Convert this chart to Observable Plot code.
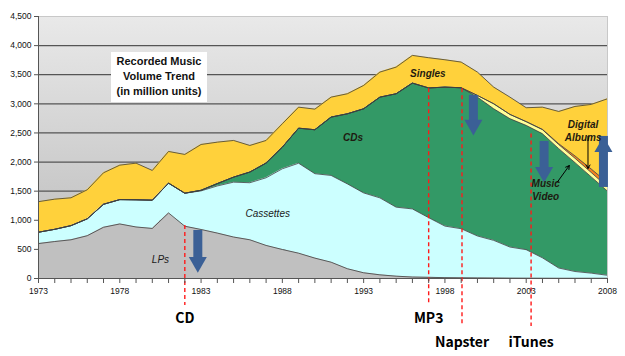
<!DOCTYPE html>
<html><head><meta charset="utf-8">
<script src="https://cdn.jsdelivr.net/npm/d3@7"></script>
<script src="https://cdn.jsdelivr.net/npm/@observablehq/plot@0.6"></script>
<style>
body{margin:0;background:#fff;}
#wrap{position:relative;width:625px;height:356px;}
#titlebox{position:absolute;left:111px;top:52px;width:96px;height:50px;background:#fff;
  font:bold 11px "Liberation Sans",Arial,sans-serif;text-align:center;line-height:15px;
  padding-top:2px;box-sizing:border-box;color:#111;}
</style></head><body>
<div id="wrap"><div id="titlebox">Recorded Music<br>Volume Trend<br>(in million units)</div></div>
<script>
// ---- data (million units) ----
const years = [1973,1974,1975,1976,1977,1978,1979,1980,1981,1982,1983,1984,1985,1986,1987,1988,1989,1990,
  1991,1992,1993,1994,1995,1996,1997,1998,1999,2000,2001,2002,2003,2004,2005,2006,2007,2008];
const lps = [600,635,665,735,880,937,885,860,1126,898,842,780,712,665,568,498,435,350,
  280,168,98,63,40,25,20,15,12,10,8,6,5,4,3,3,3,3];
const cassettes = [195,210,243,290,395,418,467,485,512,567,663,810,943,980,1162,1387,1545,1450,
  1490,1457,1372,1322,1185,1170,1025,885,843,720,647,534,490,351,177,117,89,52];
const cds = [0,0,0,0,0,0,0,0,0,0,10,40,86,183,252,371,602,755,
  1002,1204,1445,1730,1948,2161,2228,2387,2421,2385,2260,2204,2134,2131,2050,1870,1653,1445];
const musicVideo = [0,0,0,0,0,0,0,0,0,0,0,0,0,0,0,0,0,0,
  0,0,0,0,0,0,0,0,0,29,86,74,65,70,70,75,75,72];
const digitalAlbums = [0,0,0,0,0,0,0,0,0,0,0,0,0,0,0,0,0,0,
  0,0,0,0,0,0,0,0,0,0,0,0,0,5,15,40,60,75];
const singles = [525,518,478,499,541,592,629,511,544,666,787,712,630,457,389,402,361,354,
  343,344,401,430,458,476,519,470,441,401,286,297,239,382,554,850,1110,1440];

const seriesNames = ["LPs","Cassettes","CDs","Music Video","Digital Albums","Singles"];
const seriesColors = ["#c0c0c0","#ccffff","#339966","#ffff99","#f5821f","#ffd13b"];
const seriesValues = [lps, cassettes, cds, musicVideo, digitalAlbums, singles];

const yTicks = [0,500,1000,1500,2000,2500,3000,3500,4000,4500];
const gridValues = [500,1000,1500,2000,2500,3000,3500,4000];

// events
const eventNames = ["CD","MP3","Napster","iTunes"];
const eventYears = [1982, 1997, 1999.05, 2003.3];
const eventStarts = [910, 3259, 3259, 2480];
const eventRow = [1, 1, 2, 2];

// block arrows: x, from, to
const arrowX = [1982.8, 1999.75, 2004.1, 2007.75];
const arrowFrom = [825, 3144, 2354, 1770];
const arrowTo = [100, 2457, 1649, 2440];

// labels inside the chart
const labelText = ["LPs","Cassettes","CDs","Singles","Digital\nAlbums","Music\nVideo"];
const labelX = [1980.5, 1987.1, 1992.35, 1996.95, 2006.5, 2004.2];
const labelY = [321, 1117, 2428, 3540, 2552, 1529];
const labelBold = [false, false, true, true, true, true];

// callout arrows
const calloutX1 = [2004.9, 2006.8], calloutY1 = [1650, 2440];
const calloutX2 = [2005.65, 2006.8], calloutY2 = [1940, 1890];

// ---- tables ----
const table = [];
seriesNames.forEach((s, i) => years.forEach((yr, j) => table.push({year: yr, series: s, value: seriesValues[i][j]})));
const events = eventNames.map((n, i) => ({name: n, year: eventYears[i], start: eventStarts[i], row: eventRow[i]}));
const arrows = arrowX.map((x, i) => ({x, from: arrowFrom[i], to: arrowTo[i]}));
const downArrows = arrows.filter(d => d.to < d.from);
const upArrows = arrows.filter(d => d.to > d.from);
const labels = labelText.map((t, i) => ({text: t, x: labelX[i], y: labelY[i], bold: labelBold[i]}));
const callouts = calloutX1.map((x, i) => ({x1: x, y1: calloutY1[i], x2: calloutX2[i], y2: calloutY2[i]}));

const stackOpts = {x: "year", y: "value", z: "series", order: seriesNames};
const arrowBlue = "#3b6096";
const red = "#ff1a1a";

const svg = Plot.plot({
  width: 625, height: 356,
  marginLeft: 38, marginRight: 18, marginTop: 16, marginBottom: 78,
  style: {fontFamily: '"Liberation Sans", Arial, sans-serif', fontSize: "8.5px", background: "white", overflow: "visible", color: "#111"},
  x: {domain: [1973, 2008]},
  y: {domain: [0, 4500]},
  color: {domain: seriesNames, range: seriesColors},
  marks: [
    Plot.frame({fill: "url(#bgGrad)"}),
    Plot.ruleY(gridValues, {stroke: "#555", strokeWidth: 1.3}),
    Plot.areaY(table, Plot.stackY({...stackOpts, fill: "series"})),
    Plot.lineY(table, Plot.stackY2({...stackOpts, stroke: "#3d3d3d", strokeWidth: 0.8})),
    Plot.frame({stroke: "#c8c8c8"}),
    Plot.ruleY([0], {stroke: "#555"}),
    Plot.ruleX([1973], {stroke: "#555"}),
    Plot.ruleX(events.filter(d => d.row === 1), {x: "year", y1: "start", y2: 0, insetBottom: -27, stroke: red, strokeWidth: 1.4, strokeDasharray: "4,3"}),
    Plot.ruleX(events.filter(d => d.row === 2), {x: "year", y1: "start", y2: 0, insetBottom: -48, stroke: red, strokeWidth: 1.4, strokeDasharray: "4,3"}),
    Plot.ruleX(downArrows, {x: "x", y1: "from", y2: "to", insetBottom: 12, stroke: arrowBlue, strokeWidth: 9}),
    Plot.dot(downArrows, {x: "x", y: "to", symbol: "triangle", r: 6.7, rotate: 180, dy: -10.4, fill: arrowBlue, stroke: null}),
    Plot.ruleX(upArrows, {x: "x", y1: "from", y2: "to", insetTop: 12, stroke: arrowBlue, strokeWidth: 9}),
    Plot.dot(upArrows, {x: "x", y: "to", symbol: "triangle", r: 6.7, dy: 10.4, fill: arrowBlue, stroke: null}),
    Plot.text(labels.filter(d => !d.bold), {x: "x", y: "y", text: "text", fontSize: 10, fontStyle: "italic", fill: "#1a1a1a"}),
    Plot.text(labels.filter(d => d.bold), {x: "x", y: "y", text: "text", fontSize: 10, fontStyle: "italic", fontWeight: "bold", lineHeight: 1.3, fill: "#1e1a10"}),
    Plot.arrow(callouts, {x1: "x1", y1: "y1", x2: "x2", y2: "y2", stroke: "#000", strokeWidth: 1, headLength: 6}),
    Plot.text(events.filter(d => d.row === 1), {x: "year", y: 0, text: "name", lineAnchor: "bottom", dy: 44.7, fontSize: 14, fontWeight: "bold", fontFamily: '"Noto Sans CJK KR", "Noto Sans", sans-serif', fill: "#000"}),
    Plot.text(events.filter(d => d.row === 2), {x: "year", y: 0, text: "name", lineAnchor: "bottom", dy: 68, fontSize: 14, fontWeight: "bold", fontFamily: '"Noto Sans CJK KR", "Noto Sans", sans-serif', fill: "#000"}),
    Plot.axisY({ticks: yTicks, tickFormat: d3.format(","), tickSize: 4, tickPadding: 3, label: null, stroke: "#555"}),
    Plot.axisX({ticks: years, tickFormat: d => ((d - 1973) % 5 === 0 ? String(d) : ""), tickSize: 5, tickPadding: 4, label: null, stroke: "#555"})
  ]
});

const ns = "http://www.w3.org/2000/svg";
const defs = document.createElementNS(ns, "defs");
defs.innerHTML = '<linearGradient id="bgGrad" x1="0" y1="0" x2="0" y2="1"><stop offset="0" stop-color="#e9e9e9"/><stop offset="1" stop-color="#b9b9b9"/></linearGradient>';
svg.insertBefore(defs, svg.firstChild);
const wrap = document.getElementById("wrap");
wrap.insertBefore(svg, wrap.firstChild);
svg.style.position = "absolute";
svg.style.left = "0";
svg.style.top = "0";
</script>
</body></html>
